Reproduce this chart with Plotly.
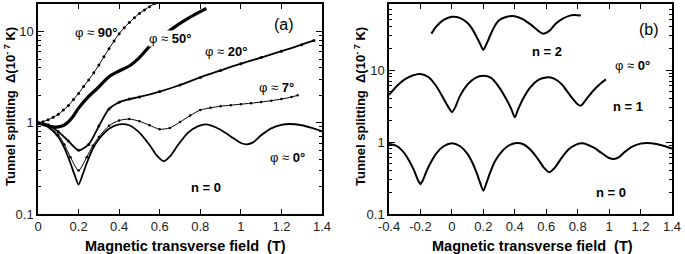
import plotly.graph_objects as go

W, H = 685, 254

# ---------------- Panel (a) data : n = 0, several field angles ----------------
x_a0 = [0, 0.05, 0.1, 0.13, 0.16, 0.18, 0.2, 0.22, 0.24, 0.27, 0.3, 0.35, 0.4, 0.45, 0.5, 0.55,
        0.585, 0.62, 0.655, 0.69, 0.74, 0.79, 0.83, 0.9, 0.95, 1.0, 1.03, 1.06, 1.1, 1.15, 1.2,
        1.24, 1.3, 1.35, 1.4]
y_a0 = [1.0, 0.9, 0.7, 0.53, 0.36, 0.27, 0.21, 0.27, 0.36, 0.52, 0.66, 0.86, 0.96, 0.94, 0.78, 0.57,
        0.44, 0.38, 0.44, 0.57, 0.78, 0.92, 0.96, 0.84, 0.71, 0.6, 0.58, 0.61, 0.73, 0.87, 0.95,
        0.97, 0.94, 0.88, 0.81]

x_a7 = [0, 0.05, 0.1, 0.13, 0.16, 0.2, 0.24, 0.27, 0.3, 0.35, 0.4, 0.45, 0.5, 0.55, 0.6, 0.65,
        0.7, 0.75, 0.8, 0.85, 0.9, 0.95, 1.0, 1.05, 1.1, 1.15, 1.2, 1.25, 1.28]
y_a7 = [1.0, 0.92, 0.74, 0.58, 0.42, 0.3, 0.42, 0.56, 0.7, 0.93, 1.06, 1.1, 1.04, 0.94, 0.85, 0.88,
        1.02, 1.2, 1.38, 1.46, 1.52, 1.56, 1.6, 1.64, 1.69, 1.75, 1.82, 1.92, 2.0]

x_a20 = [0, 0.05, 0.1, 0.15, 0.2, 0.25, 0.3, 0.35, 0.4, 0.45, 0.5, 0.6, 0.7, 0.8, 0.9, 1.0, 1.1,
         1.2, 1.3, 1.36]
y_a20 = [1.0, 0.95, 0.8, 0.63, 0.5, 0.58, 0.92, 1.42, 1.68, 1.82, 1.92, 2.2, 2.6, 3.15, 3.75, 4.45,
         5.2, 6.1, 7.2, 8.0]

x_a50 = [0, 0.04, 0.08, 0.11, 0.14, 0.17, 0.2, 0.25, 0.29, 0.35, 0.4, 0.45, 0.5, 0.55, 0.6, 0.65,
         0.7, 0.75, 0.8, 0.83]
y_a50 = [1.0, 0.94, 0.9, 0.91, 0.98, 1.15, 1.45, 1.95, 2.36, 3.2, 3.7, 4.2, 5.2, 6.9, 8.6, 10.3,
         12.3, 14.4, 16.6, 18.0]

x_a90 = [0, 0.025, 0.05, 0.075, 0.1, 0.125, 0.15, 0.175, 0.2, 0.225, 0.25, 0.275, 0.3, 0.325,
         0.35, 0.375, 0.4, 0.425, 0.45, 0.475, 0.5, 0.525, 0.55, 0.575, 0.6]
y_a90 = [1.0, 1.03, 1.08, 1.15, 1.24, 1.38, 1.55, 1.8, 2.1, 2.5, 2.95, 3.55, 4.3, 5.3, 6.5, 7.9,
         9.5, 11.0, 12.6, 14.2, 15.8, 17.3, 18.8, 20.3, 21.8]

# ---------------- Panel (b) data : phi = 0, several n ----------------
x_b0 = [-0.4, -0.35, -0.3, -0.27, -0.24, -0.22, -0.2, -0.18, -0.16, -0.13, -0.1, -0.05, 0,
        0.05, 0.1, 0.13, 0.16, 0.18, 0.2, 0.22, 0.24, 0.27, 0.3, 0.35, 0.4, 0.45, 0.5, 0.55,
        0.585, 0.62, 0.655, 0.69, 0.74, 0.79, 0.83, 0.9, 0.95, 1.0, 1.03, 1.06, 1.1, 1.15, 1.2,
        1.24, 1.3, 1.35, 1.4]
y_b0 = [0.95, 0.88, 0.69, 0.54, 0.4, 0.31, 0.26, 0.31, 0.4, 0.54, 0.69, 0.88, 0.96,
        0.88, 0.68, 0.52, 0.36, 0.27, 0.21, 0.27, 0.36, 0.52, 0.66, 0.86, 0.96, 0.94, 0.78, 0.57,
        0.44, 0.38, 0.44, 0.57, 0.78, 0.92, 0.96, 0.84, 0.71, 0.6, 0.58, 0.61, 0.73, 0.87, 0.95,
        0.97, 0.94, 0.88, 0.81]

x_b1 = [-0.4, -0.35, -0.3, -0.25, -0.2, -0.15, -0.1, -0.05, -0.02, 0, 0.02, 0.05, 0.1, 0.15, 0.2,
        0.25, 0.3, 0.35, 0.38, 0.4, 0.42, 0.45, 0.5, 0.55, 0.6, 0.65, 0.7, 0.75, 0.8, 0.82, 0.85,
        0.9, 0.95, 0.98]
y_b1 = [4.5, 6.0, 7.4, 8.4, 8.8, 8.0, 6.0, 3.9, 3.0, 2.6, 3.0, 4.3, 6.3, 7.8, 8.3,
        7.8, 5.8, 3.8, 2.8, 2.2, 2.8, 3.9, 5.8, 7.3, 7.9, 7.6, 6.3, 4.5, 3.35, 3.2, 3.8,
        5.2, 6.6, 7.4]

x_b2 = [-0.13, -0.1, -0.05, 0, 0.05, 0.1, 0.13, 0.16, 0.18, 0.2, 0.22, 0.24, 0.27, 0.3, 0.35,
        0.4, 0.45, 0.5, 0.55, 0.58, 0.62, 0.66, 0.7, 0.75, 0.78, 0.82]
y_b2 = [32, 40, 50, 55, 53, 45, 37, 28, 23, 19, 23, 29, 40, 49, 55,
        56, 51, 43, 35, 32, 35, 44, 51, 57, 58, 57]

# ---------------- axes data ----------------
xa_ticks = [0, 0.2, 0.4, 0.6, 0.8, 1.0, 1.2, 1.4]
xa_text = ["0", "0.2", "0.4", "0.6", "0.8", "1", "1.2", "1.4"]
xb_ticks = [-0.4, -0.2, 0, 0.2, 0.4, 0.6, 0.8, 1.0, 1.2, 1.4]
xb_text = ["-0.4", "-0.2", "0", "0.2", "0.4", "0.6", "0.8", "1", "1.2", "1.4"]
y_ticks = [0.1, 1, 10]
y_text = ["0.1", "1", "10"]
y_minor = [0.2, 0.3, 0.4, 0.5, 0.6, 0.7, 0.8, 0.9, 2, 3, 4, 5, 6, 7, 8, 9, 20, 30, 40, 50, 60, 70, 80, 90]

FONT = "Liberation Sans, Arial, Helvetica, sans-serif"
BLACK = "#000000"

fig = go.Figure()

def add(x, y, axis, width, msize=0):
    mode = "lines+markers" if msize else "lines"
    fig.add_trace(go.Scatter(
        x=x, y=y, mode=mode, xaxis="x" + axis, yaxis="y" + axis,
        line=dict(color=BLACK, width=width, shape="spline", smoothing=0.7),
        marker=dict(size=msize, color=BLACK), showlegend=False, hoverinfo="skip"))

add(x_a0, y_a0, "", 1.8)
add(x_a7, y_a7, "", 1.0, 2.5)
add(x_a20, y_a20, "", 1.8, 3)
add(x_a50, y_a50, "", 3.2)
add(x_a90, y_a90, "", 1.0, 3)

add(x_b0, y_b0, "2", 2.0)
add(x_b1, y_b1, "2", 2.0)
add(x_b2, y_b2, "2", 2.0)

# pixel geometry -> paper fractions
def px(x):
    return x / W

def py(y):
    return 1 - y / H

xdomA = [px(38), px(322)]
xdomB = [px(389), px(672)]
ydom = [py(214), py(4)]

common_x = dict(showline=True, mirror="ticks", linecolor=BLACK, linewidth=1.5,
                ticks="inside", ticklen=5, tickwidth=1.3, tickcolor=BLACK,
                showgrid=False, zeroline=False, automargin=False,
                tickfont=dict(family=FONT, size=13, color="#222"))
common_y = dict(type="log", showline=True, mirror="ticks", linecolor=BLACK, linewidth=1.5,
                ticks="inside", ticklen=6, tickwidth=1.3, tickcolor=BLACK,
                showgrid=False, zeroline=False, tickvals=y_ticks, ticktext=y_text,
                automargin=False,
                minor=dict(tickvals=y_minor, ticks="inside", ticklen=3.5, tickwidth=1,
                           tickcolor=BLACK, showgrid=False),
                tickfont=dict(family=FONT, size=13, color="#222"))

fig.update_layout(
    width=W, height=H, margin=dict(l=0, r=0, t=0, b=0, autoexpand=False),
    paper_bgcolor="white", plot_bgcolor="white",
    xaxis=dict(domain=xdomA, range=[0, 1.4], tickvals=xa_ticks, ticktext=xa_text,
               anchor="y", **common_x),
    yaxis=dict(domain=ydom, range=[-1, 1.303], anchor="x", **common_y),
    xaxis2=dict(domain=xdomB, range=[-0.4, 1.4], tickvals=xb_ticks, ticktext=xb_text,
                anchor="y2", **common_x),
    yaxis2=dict(domain=ydom, range=[-1, 1.917], anchor="x2", **common_y),
)

def note(text, x, y, size=13, bg=None, angle=0):
    fig.add_annotation(text=text, x=px(x), y=py(y), xref="paper", yref="paper",
                       xanchor="center", yanchor="middle", showarrow=False, textangle=angle,
                       font=dict(family=FONT, size=size, color=BLACK),
                       bgcolor=bg if bg else "rgba(0,0,0,0)", borderpad=0)

TITLE_Y = "<b>Tunnel splitting  Δ(10<sup>- 7</sup> K)</b>"
TITLE_X = "<b>Magnetic transverse field  (T)</b>"

note(TITLE_Y, 10, 107, angle=-90)
note(TITLE_Y, 360, 107, angle=-90)
note(TITLE_X, 185, 246, size=14.5)
note(TITLE_X, 532, 246, size=14.5)

note("φ ≈ <b>90°</b>", 95.5, 32.5)
note("φ ≈ <b>50°</b>", 170, 39, bg="white")
note("φ ≈ <b>20°</b>", 225.5, 52)
note("φ ≈ <b>7°</b>", 276.5, 87)
note("φ ≈ <b>0°</b>", 287.5, 157)
note("<b>n = 0</b>", 206.5, 187.5)
note("(a)", 283.5, 24.5, size=16)

note("(b)", 648.5, 29.5, size=16)
note("<b>n = 2</b>", 546.5, 52)
note("φ ≈ <b>0°</b>", 632, 65)
note("<b>n = 1</b>", 627.5, 107)
note("<b>n = 0</b>", 611, 192.5)

fig.write_html("out.html", config={"displayModeBar": False},
               post_script="document.body.style.margin='0px';document.body.style.overflow='hidden';")
